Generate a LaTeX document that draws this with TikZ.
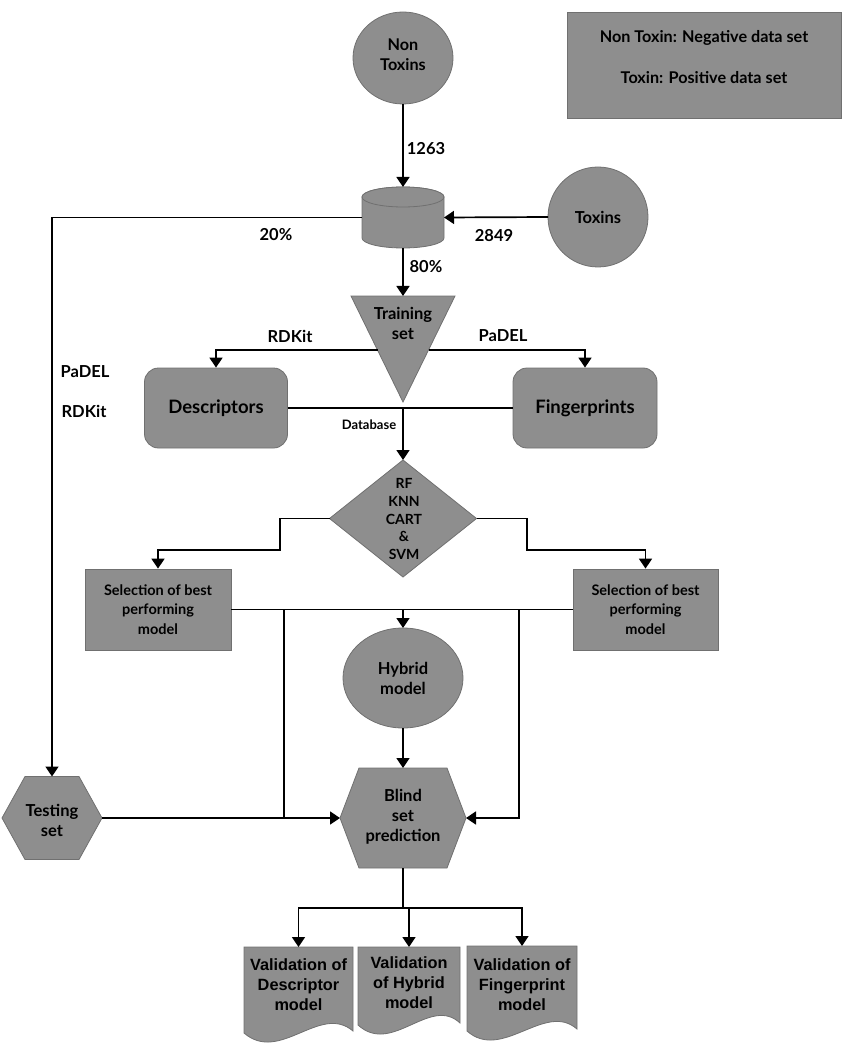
\documentclass[tikz,border=0pt]{standalone}
\usepackage{fontspec}
\setmainfont{Lato}
\newfontfamily\arialfont{Liberation Sans}
\usetikzlibrary{arrows.meta,shapes.geometric}
\definecolor{shapefill}{RGB}{142,142,142}
\definecolor{shapeedge}{RGB}{112,112,112}
\tikzset{
  shp/.style={fill=shapefill, draw=shapeedge, line width=0.8pt},
  conn/.style={line width=1.7pt, draw=black},
  arr/.style={conn, -{Triangle[width=13pt,length=10pt]}},
  txt/.style={font=\bfseries\fontsize{16.5}{20}\selectfont, align=center, inner sep=0pt},
  seltxt/.style={font=\bfseries\fontsize{14.5}{19.5}\selectfont, align=center, inner sep=0pt},
  legtxt/.style={font=\bfseries\fontsize{16.2}{20}\selectfont, align=center, inner sep=0pt},
  big/.style={font=\bfseries\fontsize{18.5}{22}\selectfont, align=center, inner sep=0pt},
  small/.style={font=\bfseries\fontsize{13}{15}\selectfont, inner sep=0pt},
  doctxt/.style={font=\arialfont\bfseries\fontsize{16.3}{20}\selectfont, align=center, inner sep=0pt},
  anchorbox/.style={inner sep=0pt, outer sep=0pt}
}
\begin{document}
\begin{tikzpicture}[x=1pt,y=-1pt]
\useasboundingbox (0,0) rectangle (851,1048);

% legend
\node[shp, anchorbox, minimum width=274pt, minimum height=106pt] (legend) at (704,65) {};
\node[legtxt] (leg1) at (704,38) {Non Toxin: Negative data set};
\node[legtxt] (leg2) at (704,78) {Toxin: Positive data set};

% Non toxins
\node[shp, ellipse, anchorbox, minimum width=100pt, minimum height=92pt] (nontox) at (403,58) {};
\node[legtxt] (nontoxt) at (403,55) {Non\\Toxins};

% Toxins
\node[shp, circle, anchorbox, minimum size=100pt] (tox) at (598,217) {};
\node[txt] (toxt) at (598,217) {Toxins};

% database cylinder
\node[anchorbox, minimum width=82pt, minimum height=61pt] (db) at (403,217.5) {};
\path[shp] (362,197) -- (362,238) arc[start angle=180, end angle=360, x radius=41pt, y radius=10pt] -- (444,197) arc[start angle=0, end angle=180, x radius=41pt, y radius=10pt] -- cycle;
\draw[shp] (403,197) ellipse[x radius=41pt, y radius=10pt];

% training set triangle
\node[anchorbox, minimum width=103pt, minimum height=106pt] (train) at (403,349) {};
\path[shp] (351,296) -- (455,296) -- (403,402) -- cycle;
\node[txt] (traint) at (403,323) {Training\\set};
\coordinate (trL) at (377.5,350);
\coordinate (trR) at (428.5,350);

% descriptors / fingerprints
\node[shp, rounded corners=14pt, minimum width=143pt, minimum height=80pt, big] (desc) at (216,408) {Descriptors};
\node[shp, rounded corners=14pt, minimum width=144pt, minimum height=80pt, big] (fing) at (585,408) {Fingerprints};

% diamond
\node[anchorbox, minimum width=147pt, minimum height=117pt] (dia) at (403,518.5) {};
\path[shp] (403,460) -- (476.5,518.5) -- (403,577) -- (329.5,518.5) -- cycle;
\node[font=\bfseries\fontsize{14}{17.7}\selectfont, align=center, inner sep=0pt] (diat) at (404,519) {RF\\KNN\\CART\\\&\\SVM};

% selection boxes
\node[shp, minimum width=146pt, minimum height=81pt, seltxt] (selL) at (158,609.5) {Selection of best\\performing\\model};
\node[shp, minimum width=145pt, minimum height=81pt, seltxt] (selR) at (645.5,609.5) {Selection of best\\performing\\model};

% hybrid
\node[shp, ellipse, anchorbox, minimum width=120pt, minimum height=100pt] (hyb) at (403,678) {};
\node[txt] (hybt) at (403,678) {Hybrid\\model};

% testing set hexagon
\node[anchorbox, minimum width=100pt, minimum height=83pt] (test) at (52,818) {};
\path[shp] (2,818) -- (25,776.5) -- (79,776.5) -- (102,818) -- (79,859.5) -- (25,859.5) -- cycle;
\node[txt] (testt) at (52,820) {Testing\\set};

% blind set hexagon
\node[anchorbox, minimum width=126pt, minimum height=100pt] (blind) at (403,818) {};
\path[shp] (340,818) -- (359,768) -- (447,768) -- (466,818) -- (447,868) -- (359,868) -- cycle;
\node[txt] (blindt) at (403,817) {Blind\\set\\prediction};

% documents
\node[anchorbox, minimum width=109pt, minimum height=85pt, anchor=north] (v1) at (298.5,947) {};
\path[shp] (244,947) -- (353,947) -- (353,1031) .. controls (320,1003) and (280,1064) .. (244,1033) -- cycle;
\node[doctxt] (v1t) at (298.5,985) {Validation of\\Descriptor\\model};
\node[anchorbox, minimum width=102pt, minimum height=80pt, anchor=north] (v2) at (409,947) {};
\path[shp] (358,947) -- (460,947) -- (460,1023) .. controls (430,995) and (392,1056) .. (358,1025) -- cycle;
\node[doctxt] (v2t) at (409,983) {Validation\\of Hybrid\\model};
\node[anchorbox, minimum width=110pt, minimum height=84pt, anchor=north] (v3) at (522,946) {};
\path[shp] (467,946) -- (577,946) -- (577,1029) .. controls (545,1001) and (502,1062) .. (467,1031) -- cycle;
\node[doctxt] (v3t) at (522,985) {Validation of\\Fingerprint\\model};

% connectors
\draw[arr] (nontox.south) -- (db.north);
\draw[arr] (tox.west) -- (db.east);
\draw[arr] (db.south) -- (train.north);
\draw[arr] (db.west) -| (test.north);
\draw[arr] (trL) -| (desc.north);
\draw[arr] (trR) -| (fing.north);
\draw[conn] (desc.east) -- (fing.west);
\draw[arr] (desc.east -| dia.north) -- (dia.north);
\draw[arr] (dia.west) -- (280,518.5) -- (280,550) -| (selL.north);
\draw[arr] (dia.east) -- (527,518.5) -- (527,550) -| (selR.north);
\draw[conn] (selL.east) -- (selR.west);
\draw[arr] (selL.east -| hyb.north) -- (hyb.north);
\coordinate (jL) at (284,609.5);
\coordinate (jR) at (519,609.5);
\draw[conn] (jL) -- (jL |- blind.west);
\draw[arr] (jR) |- (blind.east);
\draw[arr] (test.east) -- (blind.west);
\draw[arr] (hyb.south) -- (blind.north);
\coordinate (split) at (403,908);
\draw[conn] (blind.south) -- (split);
\draw[arr] (split) -| (v1.north);
\draw[arr] (split) -| (v3.north);
\draw[arr] (split -| v2.north) -- (v2.north);

% labels
\node[txt] (l1263) at (426,149) {1263};
\node[txt] (l2849) at (494,236) {2849};
\node[txt] (l80) at (426,267) {80\%};
\node[txt] (l20) at (276,235) {20\%};
\node[txt] (lrd1) at (290,336) {RDKit};
\node[txt] (lpa1) at (503,336) {PaDEL};
\node[txt] (lpa2) at (85,372) {PaDEL};
\node[txt] (lrd2) at (84,411) {RDKit};
\node[small] (ldb) at (369,425) {Database};
\end{tikzpicture}
\end{document}
